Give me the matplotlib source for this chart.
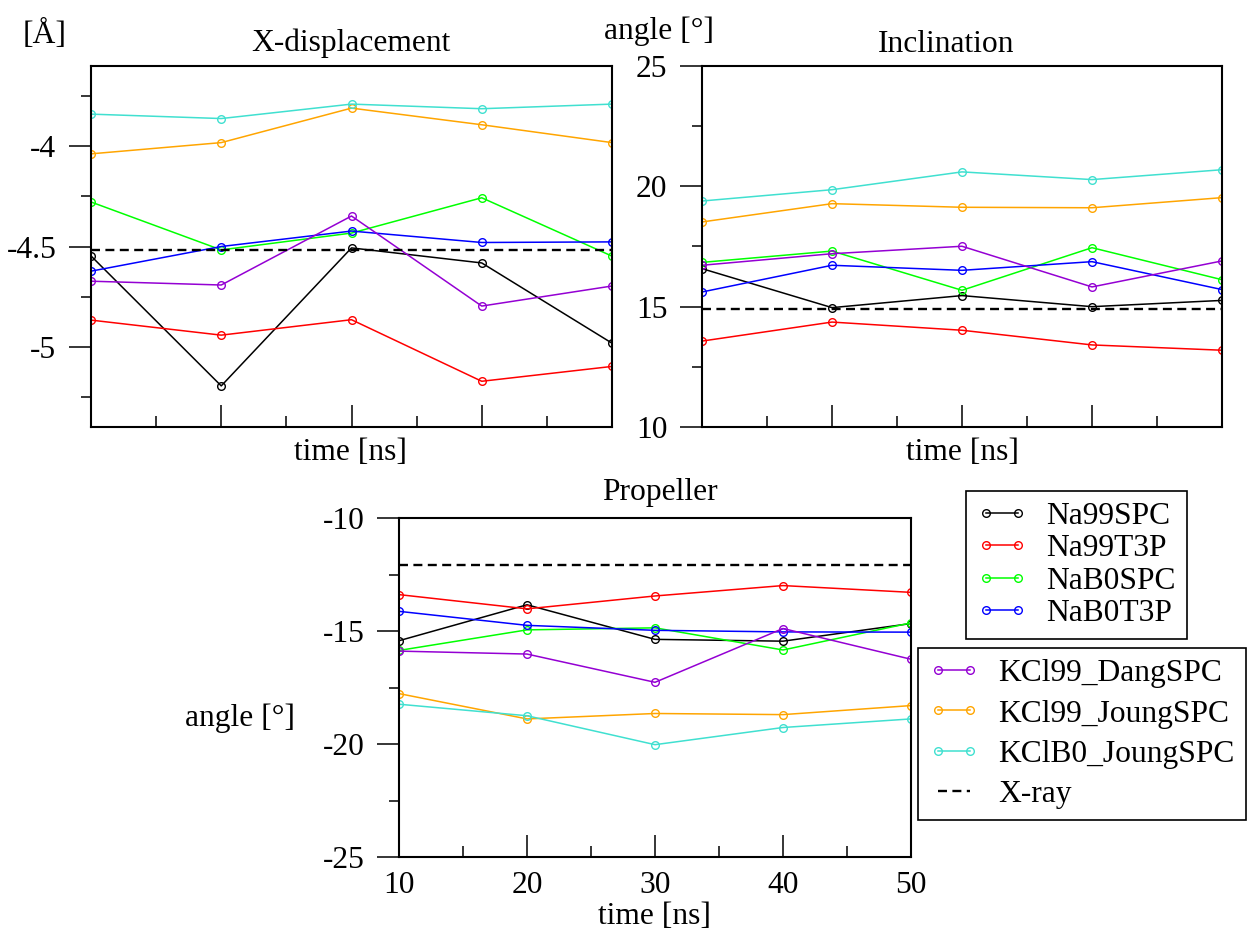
import matplotlib
matplotlib.use("Agg")
import matplotlib.pyplot as plt
from matplotlib.ticker import MultipleLocator
from matplotlib.lines import Line2D

plt.rcParams['font.family'] = ['Liberation Serif', 'DejaVu Serif']
plt.rcParams['font.size'] = 22.7
plt.rcParams['axes.unicode_minus'] = False

# time points [ns]
time = [10, 20, 30, 40, 50]

names = ["Na99SPC", "Na99T3P", "NaB0SPC", "NaB0T3P",
         "KCl99_DangSPC", "KCl99_JoungSPC", "KClB0_JoungSPC"]
colors = ["black", "#ff0000", "#00ff00", "#0000ff",
          "#9400d3", "#ffa500", "#40e0d0"]

# X-displacement [A]
xdisp_na99spc = [-4.547, -5.195, -4.507, -4.582, -4.982]
xdisp_na99t3p = [-4.867, -4.942, -4.865, -5.172, -5.098]
xdisp_nab0spc = [-4.278, -4.517, -4.433, -4.257, -4.548]
xdisp_nab0t3p = [-4.623, -4.500, -4.423, -4.480, -4.477]
xdisp_kcl99dang = [-4.673, -4.692, -4.348, -4.797, -4.697]
xdisp_kcl99joung = [-4.038, -3.982, -3.810, -3.893, -3.982]
xdisp_kclb0joung = [-3.840, -3.862, -3.790, -3.813, -3.790]
xdisp_xray = -4.518

# Inclination [deg]
incl_na99spc = [16.58, 14.96, 15.46, 15.00, 15.26]
incl_na99t3p = [13.57, 14.36, 14.02, 13.41, 13.19]
incl_nab0spc = [16.84, 17.31, 15.68, 17.45, 16.12]
incl_nab0t3p = [15.61, 16.72, 16.51, 16.87, 15.71]
incl_kcl99dang = [16.72, 17.20, 17.51, 15.82, 16.90]
incl_kcl99joung = [18.52, 19.28, 19.13, 19.11, 19.53]
incl_kclb0joung = [19.39, 19.86, 20.60, 20.28, 20.69]
incl_xray = 14.89

# Propeller [deg]
prop_na99spc = [-15.43, -13.84, -15.37, -15.45, -14.67]
prop_na99t3p = [-13.39, -14.02, -13.45, -12.99, -13.29]
prop_nab0spc = [-15.86, -14.95, -14.86, -15.84, -14.64]
prop_nab0t3p = [-14.13, -14.75, -14.97, -15.04, -15.05]
prop_kcl99dang = [-15.89, -16.02, -17.27, -14.89, -16.25]
prop_kcl99joung = [-17.77, -18.89, -18.65, -18.70, -18.30]
prop_kclb0joung = [-18.24, -18.75, -20.03, -19.27, -18.89]
prop_xray = -12.07

xdisp = [xdisp_na99spc, xdisp_na99t3p, xdisp_nab0spc, xdisp_nab0t3p,
         xdisp_kcl99dang, xdisp_kcl99joung, xdisp_kclb0joung]
incl = [incl_na99spc, incl_na99t3p, incl_nab0spc, incl_nab0t3p,
        incl_kcl99dang, incl_kcl99joung, incl_kclb0joung]
prop = [prop_na99spc, prop_na99t3p, prop_nab0spc, prop_nab0t3p,
        prop_kcl99dang, prop_kcl99joung, prop_kclb0joung]

line_kw = dict(lw=1.1, marker='o', ms=5.5, mfc='none', mew=1.0)
dash_kw = dict(color='black', lw=1.7, dashes=(3.8, 2.3))

W, H = 1247, 935
fig = plt.figure(figsize=(W / 100, H / 100), dpi=100)


def box(left, right, top, bottom):
    return [left / W, 1 - bottom / H, (right - left) / W, (bottom - top) / H]


def style_axes(ax, ylim, ymajor, yminor, xlabels):
    ax.set_xlim(10, 50)
    ax.set_ylim(*ylim)
    ax.xaxis.set_major_locator(MultipleLocator(10))
    ax.xaxis.set_minor_locator(MultipleLocator(5))
    ax.yaxis.set_major_locator(MultipleLocator(ymajor))
    ax.yaxis.set_minor_locator(MultipleLocator(yminor))
    for s in ax.spines.values():
        s.set_linewidth(1.5)
    ax.tick_params(axis='x', which='both', direction='in', top=False,
                   labelbottom=xlabels, width=1.1, pad=10)
    ax.tick_params(axis='x', which='major', length=16)
    ax.tick_params(axis='x', which='minor', length=8)
    ax.tick_params(axis='y', which='both', direction='out', right=False,
                   width=1.1, pad=9)
    ax.tick_params(axis='y', which='major', length=16)
    ax.tick_params(axis='y', which='minor', length=7)


# X-displacement
ax1 = fig.add_axes(box(91, 612, 66, 427))
for y, c in zip(xdisp, colors):
    ax1.plot(time, y, color=c, **line_kw)
ax1.axhline(xdisp_xray, **dash_kw)
style_axes(ax1, (-5.4, -3.6), 0.5, 0.25, False)
ax1.yaxis.set_major_formatter(plt.FuncFormatter(lambda v, p: "%g" % v))

# Inclination
ax2 = fig.add_axes(box(702, 1222, 66, 427))
for y, c in zip(incl, colors):
    ax2.plot(time, y, color=c, **line_kw)
ax2.axhline(incl_xray, **dash_kw)
style_axes(ax2, (10, 25), 5, 2.5, False)

# Propeller
ax3 = fig.add_axes(box(399, 911, 518, 857))
for y, c in zip(prop, colors):
    ax3.plot(time, y, color=c, **line_kw)
ax3.axhline(prop_xray, **dash_kw)
style_axes(ax3, (-25, -10), 5, 2.5, True)

# titles and axis labels
fig.text(351 / W, 1 - 43 / H, "X-displacement", ha='center', va='center')
fig.text(946 / W, 1 - 45 / H, "Inclination", ha='center', va='center')
fig.text(660 / W, 1 - 493 / H, "Propeller", ha='center', va='center')
fig.text(45 / W, 1 - 35 / H, "[Å]", ha='center', va='center')
fig.text(659 / W, 1 - 31 / H, "angle [°]", ha='center', va='center')
fig.text(240 / W, 1 - 718 / H, "angle [°]", ha='center', va='center')
fig.text(351 / W, 1 - 452 / H, "time [ns]", ha='center', va='center')
fig.text(962 / W, 1 - 452 / H, "time [ns]", ha='center', va='center')
fig.text(655 / W, 1 - 916 / H, "time [ns]", ha='center', va='center')

# legends
handles = [Line2D([], [], color=c, **line_kw) for c in colors]
xray_handle = Line2D([], [], **dash_kw)

leg_kw = dict(numpoints=2, frameon=True, fancybox=False, framealpha=1,
              edgecolor='black', borderaxespad=0, handlelength=1.6,
              handletextpad=0.6, borderpad=0.35)
leg1 = fig.legend(handles[:4], names[:4], loc='upper left',
                  bbox_to_anchor=(966 / W, 1 - 491 / H),
                  labelspacing=0.1, **leg_kw)
leg1.get_frame().set_linewidth(1.2)
leg2 = fig.legend(handles[4:] + [xray_handle], names[4:] + ["X-ray"],
                  loc='upper left', bbox_to_anchor=(918 / W, 1 - 648 / H),
                  labelspacing=0.36, **leg_kw)
leg2.get_frame().set_linewidth(1.2)

fig.savefig("out.png", dpi=100)
